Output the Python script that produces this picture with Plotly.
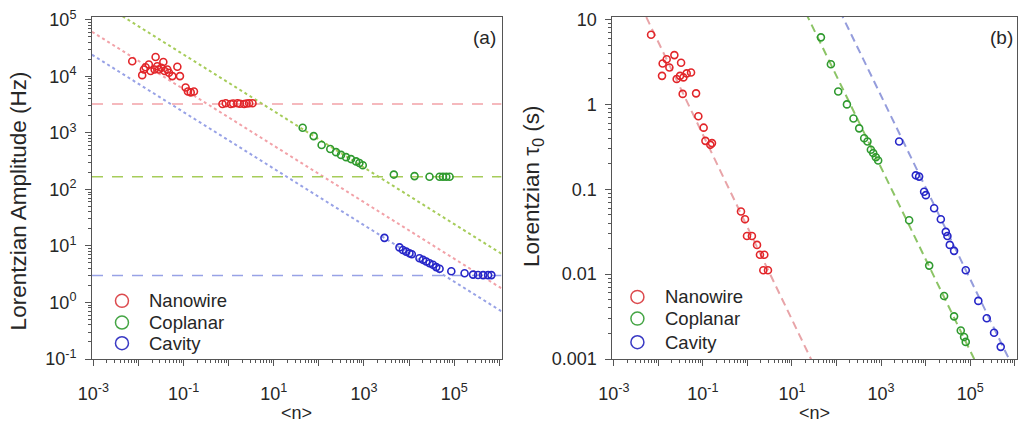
import numpy as np
import plotly.graph_objects as go

# ---------------- Panel (a): Lorentzian amplitude vs <n> ----------------
nw_amp_n = [0.00728, 0.0121, 0.0132, 0.0144, 0.0170, 0.0186, 0.0240, 0.0228, 0.0261, 0.0284,
            0.0321, 0.0356, 0.0380, 0.0437, 0.0474, 0.0564, 0.0728, 0.0832, 0.111, 0.125,
            0.144, 0.170, 0.728, 0.863, 1.11, 1.26, 1.57, 1.78, 2.20, 2.50, 2.84, 3.38]
nw_amp = [18500, 10500, 13200, 14500, 16200, 12400, 22000, 13200, 15100, 13200,
          14200, 18000, 12400, 13200, 11600, 10100, 14800, 10100, 6350, 5410,
          5200, 5410, 3250, 3340, 3250, 3300, 3340, 3280, 3250, 3300, 3340, 3340]

cp_amp_n = [43.7, 76.6, 115, 179, 240, 310, 400, 516, 667, 791, 940,
            4590, 13200, 28400, 47400, 56400, 66700, 79100]
cp_amp = [1230, 877, 611, 520, 456, 408, 372, 344, 313, 293, 267,
          183, 172, 167, 167, 167, 167, 167]

cv_amp_n = [2840, 6120, 7280, 8630, 10200, 11500, 17000, 20300, 24000, 28400,
            33800, 40000, 47400, 86300, 170000, 262000, 338000, 437000, 564000, 667000]
cv_amp = [13.9, 9.42, 8.49, 7.93, 7.40, 7.11, 6.05, 5.68, 5.31, 4.95,
          4.65, 4.22, 3.95, 3.56, 3.28, 3.11, 3.07, 3.05, 3.05, 3.05]

# fits for panel (a): saturation level and A * n^-0.5 asymptote
amp_plateau = {"Nanowire": 3250, "Coplanar": 167, "Cavity": 3.0}
amp_prefactor = {"Nanowire": 1880, "Coplanar": 7700, "Cavity": 738}
amp_exponent = -0.5

# ---------------- Panel (b): Lorentzian tau0 vs <n> ----------------
nw_tau_n = [0.00687, 0.0121, 0.0125, 0.0154, 0.0177, 0.0229, 0.0258, 0.0307, 0.0324, 0.0352,
            0.0365, 0.0433, 0.0542, 0.0703, 0.0791, 0.104, 0.114, 0.147, 0.160,
            0.716, 0.881, 0.977, 1.26, 1.64, 1.91, 2.39, 2.27, 2.89]
nw_tau = [6.62, 2.17, 3.03, 3.40, 2.72, 3.81, 1.99, 2.17, 3.10, 1.33,
          2.08, 2.32, 2.38, 1.35, 0.726, 0.532, 0.372, 0.334, 0.350,
          0.0548, 0.0443, 0.0281, 0.0281, 0.0221, 0.0169, 0.0169, 0.0111, 0.0111]

cp_tau_n = [44.6, 74.6, 109, 171, 240, 322, 417, 494, 589, 664, 762, 859,
            4260, 12000, 25900, 43400, 61400, 72800, 79400]
cp_tau = [6.17, 2.97, 1.42, 1.0, 0.682, 0.522, 0.400, 0.366, 0.292, 0.267, 0.238, 0.218,
          0.0431, 0.0126, 0.00553, 0.00318, 0.00217, 0.00182, 0.00159]

cv_tau_n = [2540, 6010, 7130, 9230, 10100, 15500, 21900, 28300, 30800, 34800,
            43400, 79400, 152000, 235000, 343000, 484000]
cv_tau = [0.366, 0.146, 0.141, 0.0935, 0.0853, 0.0598, 0.0443, 0.0315, 0.0281, 0.0221,
          0.0188, 0.0111, 0.00484, 0.00302, 0.00204, 0.00139]

tau_prefactor = {"Nanowire": 0.0358, "Coplanar": 310, "Cavity": 2190}
tau_exponent = {"Nanowire": -1.09, "Coplanar": -1.079, "Cavity": -1.08}

series_names = ["Nanowire", "Coplanar", "Cavity"]
marker_colors = {"Nanowire": "#e2262a", "Coplanar": "#2f9a2f", "Cavity": "#2626c8"}
legend_colors = {"Nanowire": "#dc4a4e", "Coplanar": "#45a545", "Cavity": "#3a3ac4"}
fit_colors_a = {"Nanowire": "#f2a2a8", "Coplanar": "#a6cc5a", "Cavity": "#98a2e6"}
fit_colors_b = {"Nanowire": "#e8a4a8", "Coplanar": "#8cc466", "Cavity": "#959ddc"}

x_tick_exps = list(range(-3, 7))
x_tick_labels = ["10<sup>-3</sup>", "", "10<sup>-1</sup>", "", "10<sup>1</sup>", "",
                 "10<sup>3</sup>", "", "10<sup>5</sup>", ""]
ya_tick_exps = list(range(-1, 6))
ya_tick_labels = ["10<sup>-1</sup>", "10<sup>0</sup>", "10<sup>1</sup>", "10<sup>2</sup>",
                  "10<sup>3</sup>", "10<sup>4</sup>", "10<sup>5</sup>"]
yb_tick_exps = list(range(-3, 2))
yb_tick_labels = ["0.001", "0.01", "0.1", "1", "10"]

XR = [-3.03, 6.05]
YRA = [-1.0, 5.05]
YRB = [-3.0, 1.03]

FONT = "Liberation Sans, Arial, sans-serif"
AXC = "#555555"
TXT = "#262626"

fig = go.Figure()

xfit = np.logspace(XR[0], XR[1], 2)

# panel (a) fit lines
for name in series_names:
    fig.add_trace(go.Scatter(x=xfit, y=[amp_plateau[name]] * 2, mode="lines",
                             line=dict(color=fit_colors_a[name], width=1.6, dash="11px,9px"),
                             showlegend=False, hoverinfo="skip", xaxis="x", yaxis="y"))
    fig.add_trace(go.Scatter(x=xfit, y=amp_prefactor[name] * xfit ** amp_exponent, mode="lines",
                             line=dict(color=fit_colors_a[name], width=2, dash="3px,3px"),
                             showlegend=False, hoverinfo="skip", xaxis="x", yaxis="y"))

# panel (b) fit lines
for name in series_names:
    fig.add_trace(go.Scatter(x=xfit, y=tau_prefactor[name] * xfit ** tau_exponent[name], mode="lines",
                             line=dict(color=fit_colors_b[name], width=2, dash="8px,5px"),
                             showlegend=False, hoverinfo="skip", xaxis="x2", yaxis="y2"))

amp_data = {"Nanowire": (nw_amp_n, nw_amp), "Coplanar": (cp_amp_n, cp_amp), "Cavity": (cv_amp_n, cv_amp)}
tau_data = {"Nanowire": (nw_tau_n, nw_tau), "Coplanar": (cp_tau_n, cp_tau), "Cavity": (cv_tau_n, cv_tau)}

for name in series_names:
    xs, ys = amp_data[name]
    fig.add_trace(go.Scatter(x=xs, y=ys, mode="markers", name=name, showlegend=False,
                             marker=dict(symbol="circle-open", size=7, color=marker_colors[name],
                                         line=dict(width=1.6, color=marker_colors[name])),
                             xaxis="x", yaxis="y"))
    xs, ys = tau_data[name]
    fig.add_trace(go.Scatter(x=xs, y=ys, mode="markers", name=name, showlegend=False,
                             marker=dict(symbol="circle-open", size=7, color=marker_colors[name],
                                         line=dict(width=1.6, color=marker_colors[name])),
                             xaxis="x2", yaxis="y2"))


def minor_vals(lo, hi):
    return [m * 10.0 ** e for e in range(lo, hi) for m in range(2, 10)]


common_axis = dict(type="log", showline=True, linecolor=AXC, linewidth=1, mirror=True,
                   ticks="outside", ticklen=6, tickcolor=AXC, tickwidth=1, showgrid=False,
                   zeroline=False, tickfont=dict(family=FONT, size=18, color=TXT))

W, H = 1026, 426
ML, MR, MT, MB = 92, 8, 12, 67
PW = W - ML - MR
PH = H - MT - MB


def px_x(px):
    return (px - ML) / PW


def px_y(py):
    return (H - MB - py) / PH


fig.update_layout(
    width=W, height=H,
    margin=dict(l=ML, r=MR, t=MT, b=MB),
    paper_bgcolor="white", plot_bgcolor="white",
    font=dict(family=FONT, color=TXT),
    showlegend=False,
    xaxis=dict(common_axis, domain=[0, px_x(502)], range=XR,
               tickmode="array", tickvals=[10.0 ** e for e in x_tick_exps], ticktext=x_tick_labels,
               minor=dict(tickmode="array", tickvals=minor_vals(-4, 7), ticks="outside", ticklen=3,
                          tickcolor=AXC, showgrid=False),
               ticklabelstandoff=12, anchor="y"),
    yaxis=dict(common_axis, domain=[0, 1], range=YRA,
               tickmode="array", tickvals=[10.0 ** e for e in ya_tick_exps], ticktext=ya_tick_labels,
               minor=dict(tickmode="array", tickvals=minor_vals(-2, 6), ticks="outside", ticklen=3,
                          tickcolor=AXC, showgrid=False),
               ticklabelstandoff=5, anchor="x"),
    xaxis2=dict(common_axis, domain=[px_x(613), 1], range=XR,
                tickmode="array", tickvals=[10.0 ** e for e in x_tick_exps], ticktext=x_tick_labels,
                minor=dict(tickmode="array", tickvals=minor_vals(-4, 7), ticks="outside", ticklen=3,
                           tickcolor=AXC, showgrid=False),
                ticklabelstandoff=12, anchor="y2"),
    yaxis2=dict(common_axis, domain=[0, 1], range=YRB,
                tickmode="array", tickvals=[10.0 ** e for e in yb_tick_exps], ticktext=yb_tick_labels,
                minor=dict(tickmode="array", tickvals=minor_vals(-4, 2), ticks="outside", ticklen=3,
                           tickcolor=AXC, showgrid=False),
                ticklabelstandoff=5, anchor="x2"),
)

# legends (one per panel): circle symbol + label
legend_rows = {"a": (122, 147, [300, 322, 343]), "b": (638, 664, [296, 318, 342])}
for key, (cx, tx, rows) in legend_rows.items():
    for name, ry in zip(series_names, rows):
        fig.add_shape(type="circle", xref="paper", yref="paper", xsizemode="pixel", ysizemode="pixel",
                      xanchor=px_x(cx), yanchor=px_y(ry), x0=-6.5, x1=6.5, y0=-6.5, y1=6.5,
                      line=dict(color=legend_colors[name], width=1.5), fillcolor="rgba(0,0,0,0)")
        fig.add_annotation(xref="paper", yref="paper", x=px_x(tx), y=px_y(ry), text=name,
                           showarrow=False, xanchor="left", yanchor="middle",
                           font=dict(family=FONT, size=18.5, color=TXT))

annots = [
    dict(text="(a)", x=px_x(485), y=px_y(33), size=19),
    dict(text="(b)", x=px_x(1002), y=px_y(33), size=19),
    dict(text="&lt;n&gt;", x=px_x(297), y=px_y(414), size=18),
    dict(text="&lt;n&gt;", x=px_x(815), y=px_y(414), size=18),
    dict(text="Lorentzian Amplitude (Hz)", x=px_x(18), y=px_y(199), textangle=-90, size=22.5),
    dict(text="Lorentzian τ<sub>0</sub> (s)", x=px_x(533), y=px_y(184), textangle=-90, size=22.5),
]
for a in annots:
    fig.add_annotation(xref="paper", yref="paper", x=a["x"], y=a["y"], text=a["text"],
                       showarrow=False, xanchor="center", yanchor="middle",
                       textangle=a.get("textangle", 0),
                       font=dict(family=FONT, size=a["size"], color=TXT))

fig.write_html("out.html", config={"displayModeBar": False},
               post_script="document.body.style.margin='0';document.body.style.overflow='hidden';")
